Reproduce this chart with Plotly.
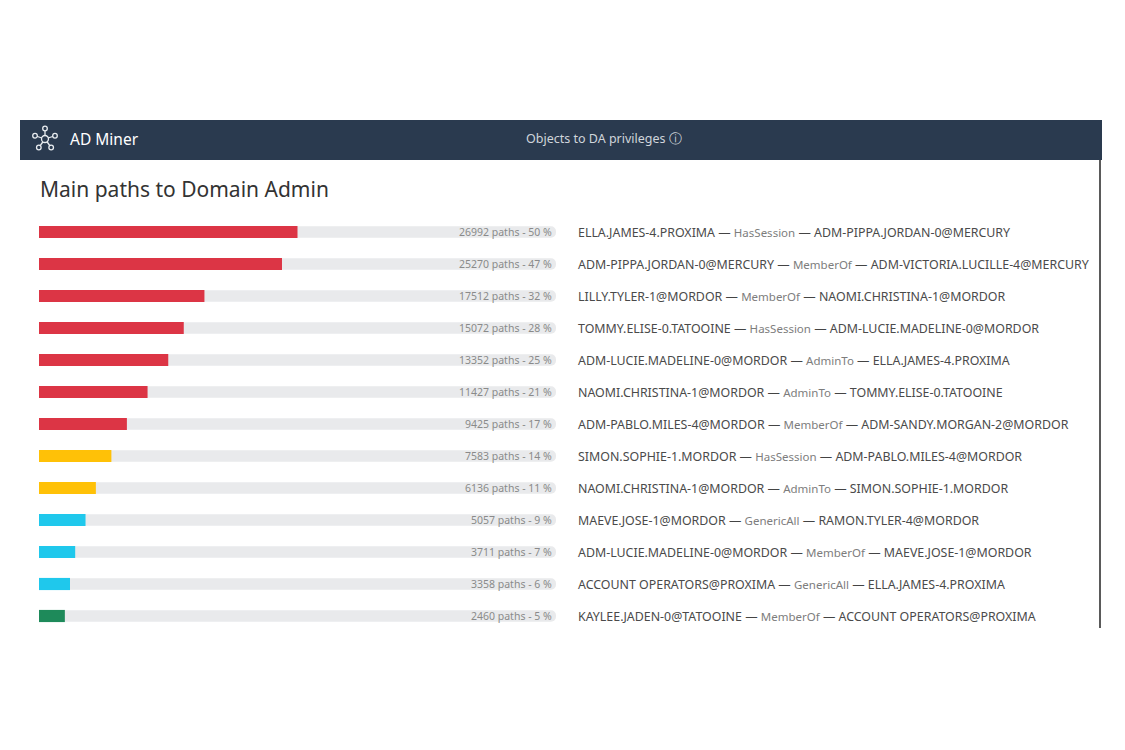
import math
import plotly.graph_objects as go

W, H = 1125, 750
PAGE_OFFSET = 8  # default body margin of the html page

sources = [
    "ELLA.JAMES-4.PROXIMA", "ADM-PIPPA.JORDAN-0@MERCURY", "LILLY.TYLER-1@MORDOR",
    "TOMMY.ELISE-0.TATOOINE", "ADM-LUCIE.MADELINE-0@MORDOR", "NAOMI.CHRISTINA-1@MORDOR",
    "ADM-PABLO.MILES-4@MORDOR", "SIMON.SOPHIE-1.MORDOR", "NAOMI.CHRISTINA-1@MORDOR",
    "MAEVE.JOSE-1@MORDOR", "ADM-LUCIE.MADELINE-0@MORDOR", "ACCOUNT OPERATORS@PROXIMA",
    "KAYLEE.JADEN-0@TATOOINE",
]
relations = [
    "HasSession", "MemberOf", "MemberOf", "HasSession", "AdminTo", "AdminTo",
    "MemberOf", "HasSession", "AdminTo", "GenericAll", "MemberOf", "GenericAll",
    "MemberOf",
]
targets = [
    "ADM-PIPPA.JORDAN-0@MERCURY", "ADM-VICTORIA.LUCILLE-4@MERCURY", "NAOMI.CHRISTINA-1@MORDOR",
    "ADM-LUCIE.MADELINE-0@MORDOR", "ELLA.JAMES-4.PROXIMA", "TOMMY.ELISE-0.TATOOINE",
    "ADM-SANDY.MORGAN-2@MORDOR", "ADM-PABLO.MILES-4@MORDOR", "SIMON.SOPHIE-1.MORDOR",
    "RAMON.TYLER-4@MORDOR", "MAEVE.JOSE-1@MORDOR", "ELLA.JAMES-4.PROXIMA",
    "ACCOUNT OPERATORS@PROXIMA",
]
path_counts = [26992, 25270, 17512, 15072, 13352, 11427, 9425, 7583, 6136, 5057, 3711, 3358, 2460]
percents = [50, 47, 32, 28, 25, 21, 17, 14, 11, 9, 7, 6, 5]


def px_x(x):
    return (x - PAGE_OFFSET) / W


def px_y(y):
    return 1 - (y - PAGE_OFFSET) / H


def level_color(p):
    if p >= 15:
        return "#dc3545"
    if p >= 10:
        return "#ffc107"
    if p >= 6:
        return "#1fc8ec"
    return "#1e8a5a"


rows = list(range(len(percents)))
colors = [level_color(p) for p in percents]

fig = go.Figure()
fig.add_trace(go.Bar(
    x=[100] * len(rows), y=rows, orientation="h",
    marker=dict(color="#e9eaec", line_width=0),
    width=0.36, hoverinfo="skip",
))
fig.add_trace(go.Bar(
    x=percents, y=rows, orientation="h",
    marker=dict(color=colors, line_width=0),
    width=0.38, hoverinfo="skip",
))

font = "Noto Sans"
annotations = []
for i in rows:
    annotations.append(dict(
        x=100, y=i, xref="x", yref="y", xanchor="right", yanchor="middle",
        xshift=-2, showarrow=False,
        text=f"{path_counts[i]} paths - {percents[i]} %",
        font=dict(family=font, size=10.5, color="#8a8a8a"),
    ))
    annotations.append(dict(
        x=px_x(576), y=i, xref="paper", yref="y", xanchor="left", yanchor="middle",
        showarrow=False,
        text=(f"{sources[i]} <span style='color:#444'>—</span> "
              f"<span style='color:#7d7d7d;font-size:11.5px'>{relations[i]}</span> "
              f"<span style='color:#444'>—</span> {targets[i]}"),
        font=dict(family=font, size=12.4, color="#4a4a4a"),
    ))

annotations += [
    dict(x=px_x(68), y=px_y(139), xref="paper", yref="paper", xanchor="left",
         yanchor="middle", showarrow=False, text="AD Miner",
         font=dict(family=font, size=15.5, color="#ffffff")),
    dict(x=px_x(604), y=px_y(139), xref="paper", yref="paper", xanchor="center",
         yanchor="middle", showarrow=False, text="Objects to DA privileges ⓘ",
         font=dict(family=font, size=12.5, color="#d0d5db")),
    dict(x=px_x(38), y=px_y(189), xref="paper", yref="paper", xanchor="left",
         yanchor="middle", showarrow=False, text="Main paths to Domain Admin",
         font=dict(family=font, size=21, color="#333333")),
]

shapes = [
    dict(type="rect", xref="paper", yref="paper",
         x0=px_x(20), x1=px_x(1102), y0=px_y(160), y1=px_y(120),
         fillcolor="#2a3a4f", line_width=0, layer="below"),
    dict(type="line", xref="paper", yref="paper",
         x0=px_x(1100), x1=px_x(1100), y0=px_y(160), y1=px_y(628),
         line=dict(color="#5a5a5a", width=2)),
]

# network icon in the header
cx, cy = 45, 139
for k in range(5):
    a = math.radians(90 + 72 * k)
    nx, ny = cx + 10.5 * math.cos(a), cy - 10.5 * math.sin(a)
    shapes.append(dict(type="line", xref="paper", yref="paper",
                       x0=px_x(cx), y0=px_y(cy), x1=px_x(nx), y1=px_y(ny),
                       line=dict(color="#e8ecf0", width=1.3)))
    shapes.append(dict(type="circle", xref="paper", yref="paper",
                       x0=px_x(nx - 2.3), x1=px_x(nx + 2.3),
                       y0=px_y(ny - 2.3), y1=px_y(ny + 2.3),
                       fillcolor="#2a3a4f", line=dict(color="#e8ecf0", width=1.3)))
shapes.append(dict(type="circle", xref="paper", yref="paper",
                   x0=px_x(cx - 3.5), x1=px_x(cx + 3.5),
                   y0=px_y(cy - 3.5), y1=px_y(cy + 3.5),
                   fillcolor="#2a3a4f", line=dict(color="#e8ecf0", width=1.3)))

fig.update_layout(
    width=W, height=H,
    margin=dict(l=0, r=0, t=0, b=0),
    paper_bgcolor="white", plot_bgcolor="white",
    barmode="overlay", barcornerradius=6,
    showlegend=False,
    xaxis=dict(domain=[px_x(39), px_x(556)], range=[0, 100], visible=False, fixedrange=True),
    yaxis=dict(domain=[px_y(632), px_y(216)], range=[12.5, -0.5], visible=False, fixedrange=True),
    annotations=annotations,
    shapes=shapes,
)

fig.write_html("out.html", config={"displayModeBar": False})
